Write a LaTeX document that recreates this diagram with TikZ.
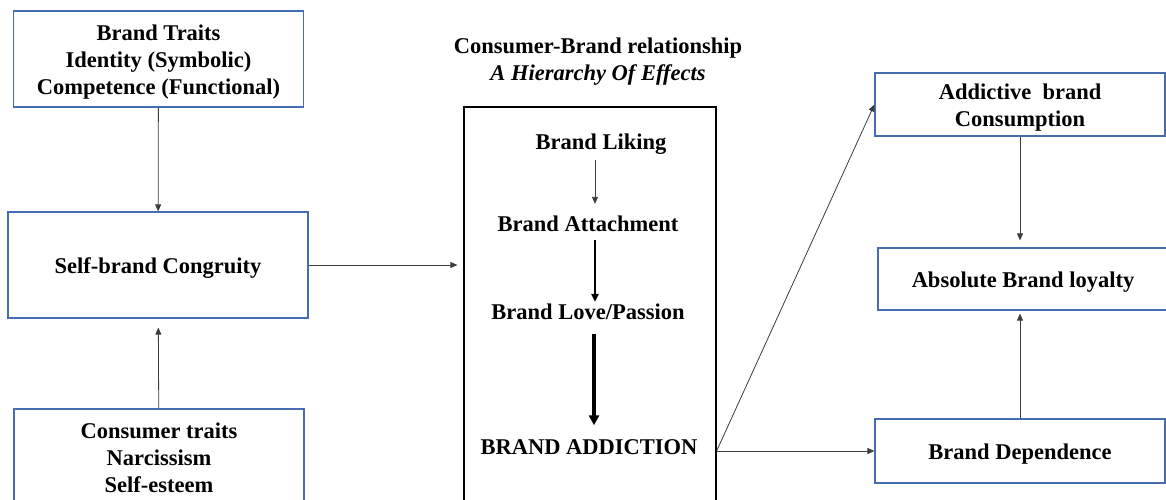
\documentclass[tikz,border=0pt]{standalone}
\usepackage{fontspec}
\setmainfont{Liberation Serif}
\usepackage{tikz}
\usetikzlibrary{
    arrows.meta,
    positioning
}
\definecolor{boxblue}{RGB}{72,108,178}
\definecolor{linegray}{RGB}{60,60,60}
\newcommand{\boxstrut}{\rule{0pt}{21pt}}

\begin{document}
\begin{tikzpicture}[
        x=1pt, y=-1pt,
        >={Triangle[length=7pt,width=6pt]},
        every node/.style={
            font=\fontsize{22.5}{27}\selectfont\bfseries,
            align=center
        },
        box/.style={
            draw=boxblue,
            line width=1.2pt,
            inner sep=0pt,
            minimum width=290pt,
            minimum height=63pt
        },
        stage/.style={
            inner sep=2pt
        },
        link/.style={
            ->,
            draw=linegray,
            line width=0.8pt
        }
    ]
        \clip (0,0) rectangle (1166,499);
        \useasboundingbox (0,0) rectangle (1166,499);

        % left column
        \node[box, minimum height=96pt] (brandtraits) at (158.5,59)
            {\boxstrut Brand Traits\\ Identity (Symbolic)\\ Competence (Functional)};
        \node[box, minimum width=300pt, minimum height=106pt] (congruity) at (158,265)
            {\boxstrut Self-brand Congruity};
        \node[box, minimum height=98pt] (consumertraits) at (159,458)
            {Consumer traits\\ Narcissism\\ Self-esteem};

        % hierarchy of effects
        \node (title) at (598,61.5)
            {Consumer-Brand relationship\\ \textit{A Hierarchy Of Effects}};
        \node[draw, line width=1.2pt, minimum width=252pt, minimum height=420pt] (hier) at (590,317) {};
        \node[stage] (liking) at (601,144) {Brand Liking};
        \node[stage] (attach) at (588,224) {Brand Attachment};
        \node[stage] (love) at (588,312) {Brand Love/Passion};
        \node[stage] (addict) at (589,447) {BRAND ADDICTION};

        % outcomes
        \node[box] (consumption) at (1020,104.5)
            {\boxstrut Addictive\ \ brand\\ Consumption};
        \node[box, minimum height=62pt] (loyalty) at (1023,279)
            {\boxstrut Absolute Brand loyalty};
        \node[box, minimum height=64pt] (dependence) at (1020,451)
            {\boxstrut Brand Dependence};

        % links
        \draw[link] (brandtraits) -- (congruity);
        \draw[link, shorten >=9pt] (consumertraits) -- (congruity);
        \draw[link, shorten >=6pt] (congruity) -- (congruity -| hier.west);

        \draw[link, shorten <=4pt, shorten >=10pt] ([xshift=-6pt]liking.south)
            -- ([xshift=-6pt]liking.south |- attach.north);
        \draw[->, line width=2pt, shorten <=6pt,
            >={Triangle[length=8pt,width=7pt]}] ([xshift=7pt]attach.south)
            -- ([xshift=7pt]attach.south |- love.north);
        \draw[->, line width=3.4pt, shorten <=12pt, shorten >=12pt,
            >={Triangle[length=10pt,width=10pt]}] ([xshift=6pt]love.south)
            -- ([xshift=6pt]love.south |- addict.north);

        \coordinate (exit) at (hier.east |- dependence.west);
        \draw[link] (exit) -- (consumption.west);
        \draw[link] (exit) -- (dependence.west);
        \draw[link, shorten >=7pt] (consumption) -- (consumption |- loyalty.north);
        \draw[link, shorten >=3pt] (dependence) -- (dependence |- loyalty.south);
    \end{tikzpicture}
\end{document}
